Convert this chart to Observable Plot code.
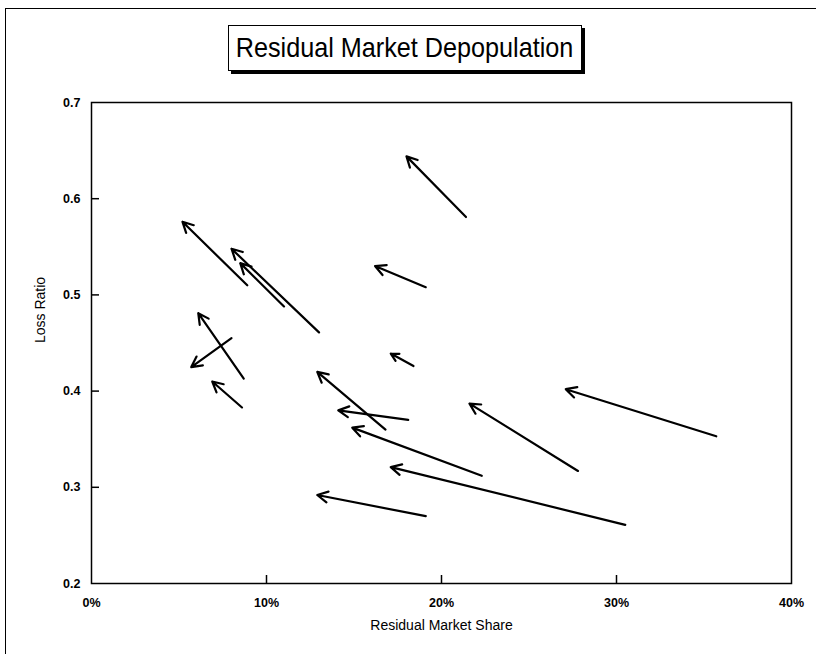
<!DOCTYPE html>
<html>
<head>
<meta charset="utf-8">
<script src="https://cdn.jsdelivr.net/npm/d3@7"></script>
<script src="https://cdn.jsdelivr.net/npm/@observablehq/plot@0.6"></script>
<style>
  html, body { margin: 0; padding: 0; background: #fff; }
  #wrap { position: relative; width: 816px; height: 654px; overflow: hidden; font-family: "Liberation Sans", Arial, sans-serif; }
  #outer { position: absolute; left: 5px; top: 8px; width: 820px; height: 660px; border-left: 1.5px solid #000; border-top: 1.5px solid #000; }
  #title { position: absolute; left: 228px; top: 25px; width: 352px; height: 44px; border: 1.5px solid #000; box-shadow: 3px 3px 0 #000; background: #fff;
           display: flex; justify-content: center; align-items: center; color: #000; white-space: nowrap; }
  #title span { display: inline-block; flex: none; font-size: 28px; line-height: 1; transform: scaleX(0.9); transform-origin: center; }
  #chart { position: absolute; left: 0; top: 0; }
</style>
</head>
<body>
<div id="wrap">
  <div id="outer"></div>
  <div id="chart"></div>
  <div id="title"><span>Residual Market Depopulation</span></div>
</div>
<script>
// Tail (start) and head (end) of each arrow: residual market share, loss ratio
const shareFrom = [0.214, 0.191, 0.184, 0.089, 0.130, 0.110, 0.087, 0.080, 0.086, 0.168, 0.181, 0.223, 0.278, 0.357, 0.305, 0.191];
const ratioFrom = [0.581, 0.508, 0.426, 0.510, 0.461, 0.488, 0.413, 0.455, 0.383, 0.360, 0.370, 0.312, 0.317, 0.353, 0.261, 0.270];
const shareTo   = [0.180, 0.162, 0.171, 0.052, 0.080, 0.085, 0.061, 0.057, 0.069, 0.129, 0.141, 0.149, 0.216, 0.271, 0.171, 0.129];
const ratioTo   = [0.644, 0.530, 0.439, 0.576, 0.548, 0.533, 0.481, 0.425, 0.410, 0.420, 0.380, 0.362, 0.387, 0.402, 0.321, 0.292];

const xTickLabels = [0, 0.1, 0.2, 0.3, 0.4];
const yTickLabels = [0.2, 0.3, 0.4, 0.5, 0.6, 0.7];
const xInnerTicks = [0.1, 0.2, 0.3];
const yInnerTicks = [0.3, 0.4, 0.5, 0.6];

const arrows = shareFrom.map((s, i) => ({x1: s, y1: ratioFrom[i], x2: shareTo[i], y2: ratioTo[i]}));

const W = 816, H = 654, mL = 91, mR = 25, mT = 102, mB = 71;
const plotW = W - mL - mR, plotH = H - mT - mB;

const chart = Plot.plot({
  width: W, height: H,
  marginLeft: mL, marginRight: mR, marginTop: mT, marginBottom: mB,
  style: {fontFamily: "'Liberation Sans', Arial, sans-serif", fontSize: "12.5px", background: "transparent", color: "#000"},
  x: {domain: [0, 0.4]},
  y: {domain: [0.2, 0.7]},
  marks: [
    Plot.tickX(xInnerTicks, {x: d => d, insetTop: plotH - 8, stroke: "#000", strokeWidth: 1.5}),
    Plot.tickY(yInnerTicks, {y: d => d, insetRight: plotW - 8, stroke: "#000", strokeWidth: 1.5}),
    Plot.axisX({ticks: xTickLabels, tickFormat: d3.format(".0%"), tickSize: 0, tickPadding: 15, fontWeight: "bold", label: null}),
    Plot.axisY({ticks: yTickLabels, tickFormat: d3.format(".1f"), tickSize: 0, tickPadding: 11, fontWeight: "bold", label: null}),
    Plot.frame({stroke: "#000", strokeWidth: 1.5}),
    Plot.text(["Residual Market Share"], {frameAnchor: "bottom", dy: 46, fontSize: 14, fill: "#000"}),
    Plot.text(["Loss Ratio"], {frameAnchor: "left", dx: -51, rotate: -90, fontSize: 14, fill: "#000"}),
    Plot.arrow(arrows, {x1: "x1", y1: "y1", x2: "x2", y2: "y2", stroke: "#000", strokeWidth: 2.2, headLength: 8, headAngle: 55})
  ]
});
document.getElementById("chart").appendChild(chart);
</script>
</body>
</html>
